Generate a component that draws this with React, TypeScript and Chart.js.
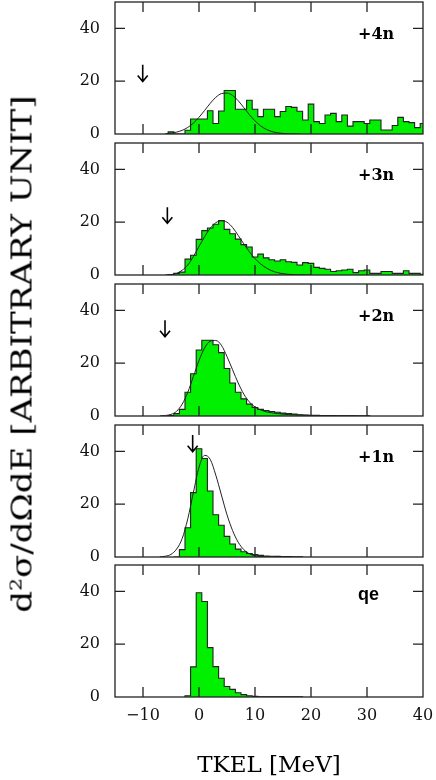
import React, { useEffect, useRef } from "react";
import { Chart, registerables } from "chart.js";

Chart.register(...registerables);

// ---------------- data ----------------
const X_MIN = -15;
const X_MAX = 40;
const Y_MIN = 0;
const Y_MAX = 50;
const xTickValues = [-10, 0, 10, 20, 30, 40];
const yTickValues = [0, 20, 40];
const xTickMarks = [-10, 0, 10, 20, 30];
const yTickMarks = [20, 40];

const panelLabels = ["+4n", "+3n", "+2n", "+1n", "qe"];

// histograms: 1 MeV bins, value of bin centred on (firstBin + i)
const hist4nFirstBin = -5;
const hist4n = [
  0.8, 0, 0, 1.4, 5.7, 5.7, 5.7, 8.8, 4.0, 8.7, 16.5, 16.5, 9.4, 9.4, 12.8, 9.4,
  6.6, 9.4, 9.4, 6.6, 8.5, 10.4, 10.1, 8.6, 5.3, 11.3, 4.7, 4.0, 7.2, 7.8, 4.7,
  7.2, 3.0, 4.7, 4.7, 4.0, 5.3, 5.3, 1.5, 1.5, 3.2, 6.3, 4.7, 4.3, 2.4, 4.0,
];
const hist3nFirstBin = -5;
const hist3n = [
  0.2, 0.6, 1.1, 6.0, 7.5, 13.5, 16.8, 17.8, 19.2, 20.6, 17.3, 15.6, 13.6, 11.5,
  10.6, 6.8, 7.9, 6.5, 5.8, 5.3, 5.8, 5.0, 4.8, 3.8, 4.7, 4.4, 2.9, 2.5, 2.2, 1.3,
  1.6, 1.9, 2.2, 0.9, 1.6, 1.9, 0.6, 0.6, 1.3, 1.3, 0.6, 0.6, 1.6, 0.6, 0.6, 0.3,
];
const hist2nFirstBin = -5;
const hist2n = [
  0.2, 0.9, 2.5, 9.0, 16.0, 25.0, 28.7, 28.7, 27.0, 24.0, 18.0, 12.5, 9.0, 6.5,
  4.5, 3.2, 2.5, 2.1, 1.7, 1.4, 1.1, 0.9, 0.7, 0.5, 0.4, 0.3, 0.3, 0.2, 0.2, 0.15,
  0.1, 0.1, 0.08, 0.05, 0.05, 0.05,
];
const hist1nFirstBin = -4;
const hist1n = [
  0, 2.8, 11.1, 24.4, 41.0, 37.3, 25.0, 16.0, 12.0, 7.8, 4.9, 3.0, 2.0, 1.3, 0.9,
  0.6, 0.4, 0.3, 0.25, 0.2, 0.15, 0.1, 0.05,
];
const histQeFirstBin = -2;
const histQe = [
  0.5, 11.4, 39.5, 36.2, 18.7, 11.5, 7.1, 4.0, 2.9, 1.6, 0.9, 0.5, 0.25, 0.12,
  0.1, 0.1, 0.1, 0.1, 0.1, 0.08, 0.05,
];

// fitted curves
const fit4nX = [-6, -5, -4, -3, -2, -1, 0, 1, 2, 3, 4, 5, 6, 7, 8, 9, 10, 11, 12, 13, 14, 15, 16, 17, 18];
const fit4nY = [0.15, 0.34, 0.71, 1.39, 2.5, 4.14, 6.33, 8.92, 11.6, 13.9, 15.3, 15.5, 14.6, 12.6, 10.0, 7.33, 4.95, 3.09, 1.77, 0.94, 0.46, 0.21, 0.09, 0.03, 0.01];
const fit3nX = [-6, -5, -4, -3, -2, -1, 0, 1, 2, 3, 4, 5, 6, 7, 8, 9, 10, 11, 12, 13, 14, 15, 16, 17, 18, 19, 20];
const fit3nY = [0, 0.15, 0.6, 1.8, 3.8, 7.0, 10.8, 14.5, 17.7, 19.8, 20.6, 20.0, 18.0, 15.0, 11.8, 8.8, 6.2, 4.2, 2.7, 1.6, 0.9, 0.5, 0.25, 0.1, 0.05, 0.02, 0];
const fit2nX = [-7, -6, -5, -4, -3, -2, -1, 0, 1, 2, 3, 4, 5, 6, 7, 8, 9, 10, 11, 12, 13, 14, 15, 16, 18, 20, 22, 25, 28];
const fit2nY = [0, 0.2, 0.6, 1.8, 4.5, 9.0, 15.0, 21.0, 25.8, 28.3, 28.6, 26.8, 22.5, 17.5, 12.5, 8.3, 5.3, 3.4, 2.3, 1.6, 1.2, 0.9, 0.7, 0.55, 0.35, 0.2, 0.1, 0.03, 0];
const fit1nX = [-7, -6, -5, -4, -3, -2, -1, 0, 1, 2, 3, 4, 5, 6, 7, 8, 9, 10, 11, 12, 13];
const fit1nY = [0.05, 0.3, 1.0, 3.0, 7.0, 14.5, 24.5, 34.0, 38.5, 37.0, 31.0, 23.5, 16.0, 10.0, 5.6, 2.8, 1.2, 0.5, 0.2, 0.07, 0];

// arrows (x position, tip value, tail value) for +4n, +3n, +2n, +1n
const arrowX = [-10.05, -5.65, -6.07, -1.13];
const arrowTipY = [19.9, 19.6, 30.0, 39.9];
const arrowTailY = [26.2, 25.7, 36.3, 46.2];

// ---------------- layout / style ----------------
const W = 436;
const H = 780;
const PLOT_LEFT = 115;
const PLOT_RIGHT = 423;
const PANEL_TOPS = [2, 143, 284, 425, 565];
const PANEL_H = 132;
const X_AXIS_H = 30;
const GREEN = "#00f000";
const INK = "#222";
const SERIF = '"DejaVu Serif", serif';

type PanelDef = {
  label: string;
  labelFont: string;
  firstBin: number;
  values: number[];
  fitX?: number[];
  fitY?: number[];
  arrow?: number;
};

const panels: PanelDef[] = [
  { label: panelLabels[0], labelFont: `bold 16px ${SERIF}`, firstBin: hist4nFirstBin, values: hist4n, fitX: fit4nX, fitY: fit4nY, arrow: 0 },
  { label: panelLabels[1], labelFont: `bold 16px ${SERIF}`, firstBin: hist3nFirstBin, values: hist3n, fitX: fit3nX, fitY: fit3nY, arrow: 1 },
  { label: panelLabels[2], labelFont: `bold 16px ${SERIF}`, firstBin: hist2nFirstBin, values: hist2n, fitX: fit2nX, fitY: fit2nY, arrow: 2 },
  { label: panelLabels[3], labelFont: `bold 16px ${SERIF}`, firstBin: hist1nFirstBin, values: hist1n, fitX: fit1nX, fitY: fit1nY, arrow: 3 },
  { label: panelLabels[4], labelFont: 'bold 18px "Liberation Sans", Arial, sans-serif', firstBin: histQeFirstBin, values: histQe },
];

function histPoints(firstBin: number, values: number[]) {
  const pts: { x: number; y: number }[] = [];
  const e0 = firstBin - 0.5;
  pts.push({ x: e0, y: 0 });
  values.forEach((v, i) => pts.push({ x: e0 + i, y: v }));
  pts.push({ x: e0 + values.length, y: 0 });
  return pts;
}

const decorPlugin = {
  id: "panelDecor",
  afterDatasetsDraw(chart: any, _args: any, opts: any) {
    const { ctx, chartArea: a, scales } = chart;
    const x = scales.x;
    const y = scales.y;
    ctx.save();
    ctx.strokeStyle = INK;
    ctx.lineWidth = 1.3;
    ctx.beginPath();
    for (const v of xTickMarks) {
      const px = x.getPixelForValue(v);
      ctx.moveTo(px, a.bottom);
      ctx.lineTo(px, a.bottom - 10);
      ctx.moveTo(px, a.top);
      ctx.lineTo(px, a.top + 10);
    }
    for (const v of yTickMarks) {
      const py = y.getPixelForValue(v);
      ctx.moveTo(a.left, py);
      ctx.lineTo(a.left + 10, py);
      ctx.moveTo(a.right, py);
      ctx.lineTo(a.right - 10, py);
    }
    ctx.stroke();
    ctx.strokeRect(a.left, a.top, a.right - a.left, a.bottom - a.top);

    if (opts.arrow !== undefined && opts.arrow !== null) {
      const i = opts.arrow;
      const px = x.getPixelForValue(arrowX[i]);
      const pTip = y.getPixelForValue(arrowTipY[i]);
      const pTail = y.getPixelForValue(arrowTailY[i]);
      ctx.strokeStyle = "#000";
      ctx.lineWidth = 1.6;
      ctx.beginPath();
      ctx.moveTo(px, pTail);
      ctx.lineTo(px, pTip);
      ctx.moveTo(px - 5, pTip - 6);
      ctx.lineTo(px, pTip);
      ctx.lineTo(px + 5, pTip - 6);
      ctx.stroke();
    }

    ctx.fillStyle = "#000";
    ctx.font = opts.labelFont;
    ctx.textBaseline = "alphabetic";
    ctx.textAlign = "left";
    ctx.fillText(opts.label, a.left + 243, a.top + opts.labelDy);
    ctx.restore();
  },
};

function buildConfig(idx: number): any {
  const p = panels[idx];
  const isBottom = idx === panels.length - 1;
  const top = PANEL_TOPS[idx];
  const bottomPad = H - (top + PANEL_H) - (isBottom ? X_AXIS_H : 0);
  const datasets: any[] = [
    {
      data: histPoints(p.firstBin, p.values),
      stepped: "before",
      fill: "origin",
      backgroundColor: GREEN,
      borderColor: INK,
      borderWidth: 1.1,
      pointRadius: 0,
      order: 2,
    },
  ];
  if (p.fitX && p.fitY) {
    datasets.push({
      data: p.fitX.map((xv, i) => ({ x: xv, y: p.fitY![i] })),
      fill: false,
      borderColor: INK,
      borderWidth: 1,
      pointRadius: 0,
      cubicInterpolationMode: "monotone",
      order: 1,
    });
  }
  return {
    type: "line",
    data: { datasets },
    plugins: [decorPlugin],
    options: {
      responsive: false,
      animation: false,
      events: [],
      layout: { padding: { top, left: 0, right: W - PLOT_RIGHT, bottom: bottomPad } },
      plugins: {
        legend: { display: false },
        tooltip: { enabled: false },
        panelDecor: { arrow: p.arrow, label: p.label, labelFont: p.labelFont, labelDy: isBottom ? 35 : 37 },
      },
      scales: {
        x: {
          type: "linear",
          min: X_MIN,
          max: X_MAX,
          grid: { display: false, drawTicks: false },
          border: { display: false },
          ticks: {
            display: isBottom,
            color: "#111",
            font: { family: SERIF, size: 16 },
            padding: 9,
            maxRotation: 0,
            callback: (v: number) => (v < 0 ? "\u2212" + Math.abs(v) : String(v)),
          },
          afterBuildTicks: (s: any) => {
            s.ticks = xTickValues.map((v) => ({ value: v }));
          },
          afterFit: (s: any) => {
            s.height = isBottom ? X_AXIS_H : 0;
            s.paddingLeft = 0;
            s.paddingRight = 0;
          },
        },
        y: {
          type: "linear",
          min: Y_MIN,
          max: Y_MAX,
          grid: { display: false, drawTicks: false },
          border: { display: false },
          ticks: {
            color: "#111",
            font: { family: SERIF, size: 16 },
            padding: 15,
          },
          afterBuildTicks: (s: any) => {
            s.ticks = yTickValues.map((v) => ({ value: v }));
          },
          afterFit: (s: any) => {
            s.width = PLOT_LEFT;
            s.paddingTop = 0;
            s.paddingBottom = 0;
          },
        },
      },
    },
  };
}

function PanelChart({ index }: { index: number }) {
  const ref = useRef<HTMLCanvasElement>(null);
  useEffect(() => {
    const chart = new Chart(ref.current as HTMLCanvasElement, buildConfig(index));
    return () => chart.destroy();
  }, [index]);
  return (
    <canvas
      ref={ref}
      width={W}
      height={H}
      style={{ position: "absolute", left: 0, top: 0, width: W, height: H }}
    />
  );
}

export default function App() {
  return (
    <div style={{ position: "absolute", left: 0, top: 0, width: W, height: H, background: "#fff", overflow: "hidden" }}>
      {panels.map((_, i) => (
        <PanelChart key={i} index={i} />
      ))}
      <div
        style={{
          position: "absolute",
          left: 269,
          top: 764,
          transform: "translate(-50%, -50%)",
          fontFamily: SERIF,
          fontSize: 23,
          whiteSpace: "nowrap",
          color: "#000",
          lineHeight: 1,
        }}
      >
        TKEL [MeV]
      </div>
      <div
        style={{
          position: "absolute",
          left: 22,
          top: 354,
          transform: "translate(-50%, -50%) rotate(-90deg) scaleX(1.26)",
          fontFamily: SERIF,
          fontSize: 27,
          whiteSpace: "nowrap",
          color: "#000",
          lineHeight: 1,
        }}
      >
        d<sup style={{ fontSize: "0.6em", verticalAlign: "0.6em", lineHeight: 0 }}>2</sup>σ/dΩdE [ARBITRARY UNIT]
      </div>
    </div>
  );
}
